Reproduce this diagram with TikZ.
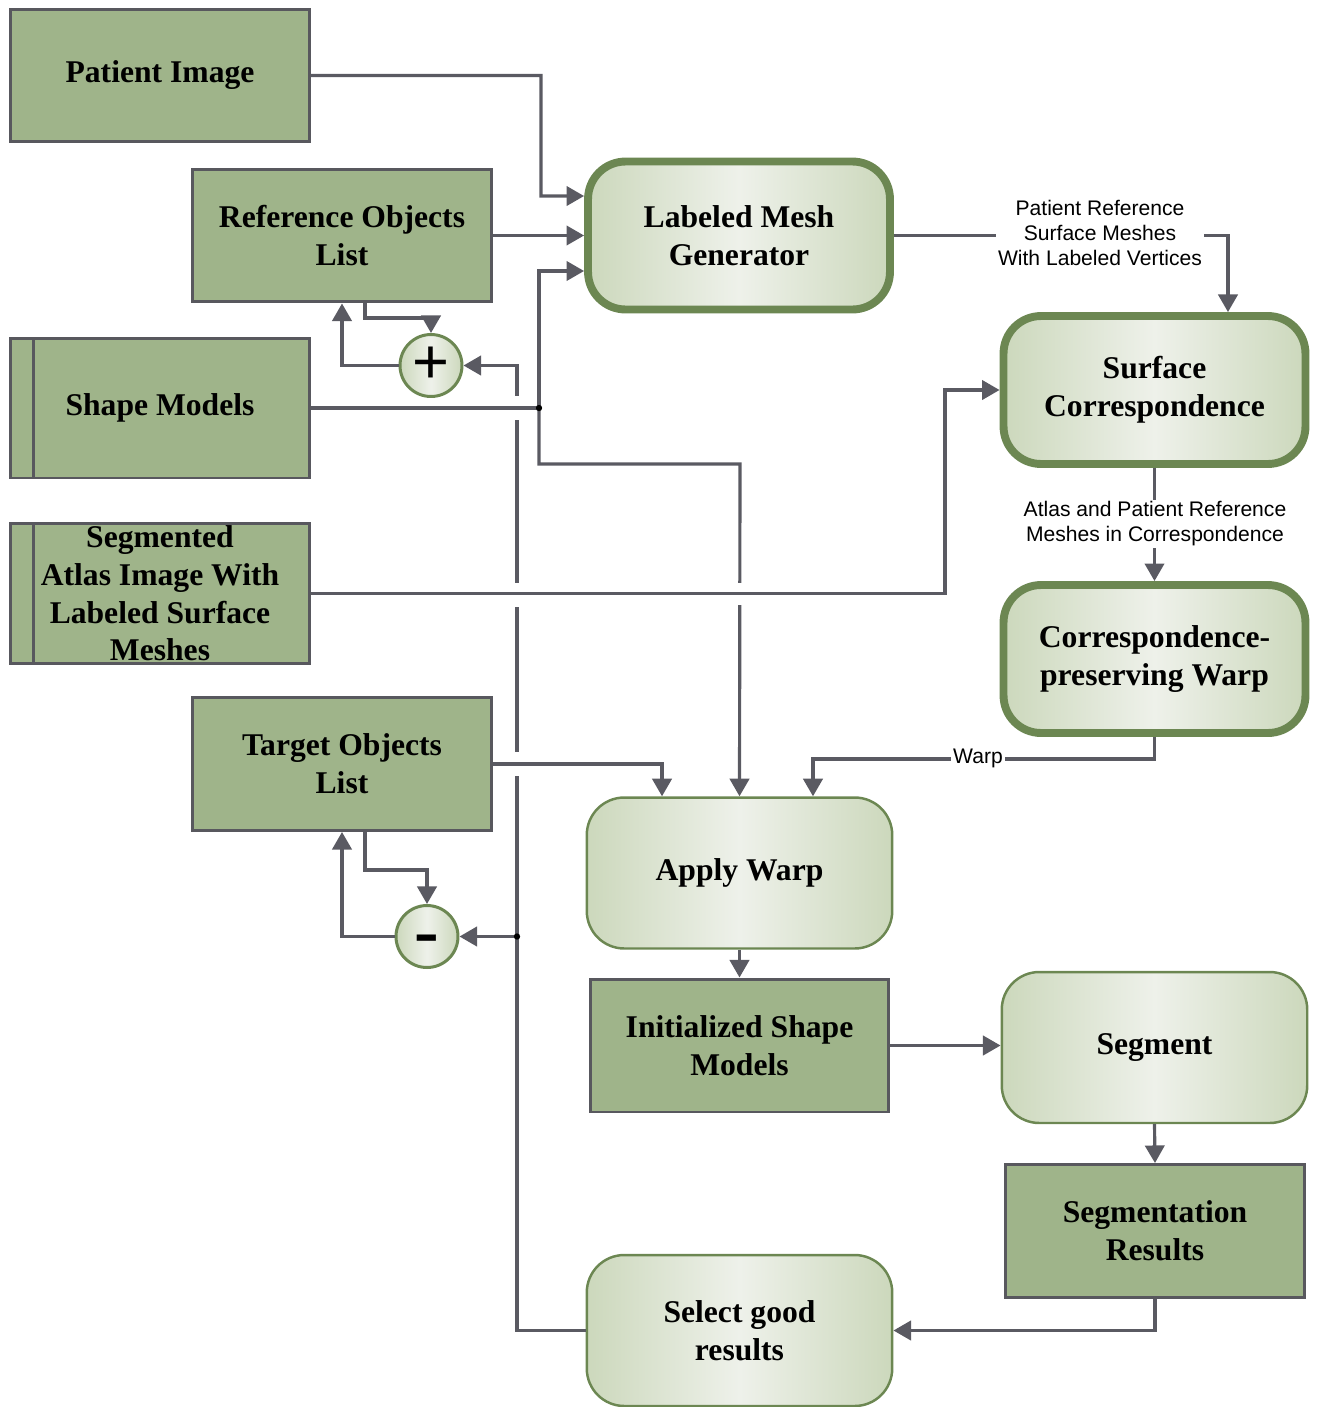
\documentclass[tikz,border=0pt]{standalone}
\usepackage{fontspec}
\setmainfont{Liberation Serif}
\setsansfont{Liberation Sans}
\usetikzlibrary{arrows.meta}

\definecolor{boxgreen}{HTML}{9FB48A}
\definecolor{boxline}{HTML}{58585E}
\definecolor{rimgreen}{HTML}{6C8752}
\definecolor{shadeside}{HTML}{CCD8BC}
\definecolor{shademid}{HTML}{EEF1EA}
\definecolor{conngray}{HTML}{5A5A62}

\tikzset{
  datbox/.style={rectangle,draw=boxline,line width=1.7pt,fill=boxgreen,inner sep=0pt,
    minimum width=5.98cm,minimum height=2.66cm,align=center,
    font=\bfseries\fontsize{18}{21.5}\selectfont},
  databar/.style={datbox,minimum height=2.8cm,
    path picture={\draw[boxline,line width=1.7pt]
      ([xshift=0.45cm]path picture bounding box.north west) --
      ([xshift=0.45cm]path picture bounding box.south west);}},
  procthick/.style={rectangle,rounded corners=0.75cm,draw=rimgreen,line width=4.5pt,
    left color=shadeside,right color=shadeside,middle color=shademid,inner sep=0pt,
    minimum width=6.04cm,minimum height=2.96cm,align=center,
    font=\bfseries\fontsize{18}{21.5}\selectfont},
  procthin/.style={procthick,line width=1.4pt,minimum width=6.11cm,minimum height=3.02cm},
  sumnode/.style={circle,draw=rimgreen,line width=1.7pt,inner sep=0pt,minimum size=1.24cm,
    left color=shadeside,right color=shadeside,middle color=shademid},
  conn/.style={draw=conngray,line width=1.8pt,-{Triangle[length=10pt,width=11pt]}},
  line/.style={draw=conngray,line width=1.8pt},
  lbl/.style={fill=white,inner sep=1pt,align=center,font=\sffamily\fontsize{12}{14.2}\selectfont}
}

\begin{document}
\begin{tikzpicture}[x=0.02cm,y=-0.02cm]
  \useasboundingbox (0,0) rectangle (1320,1407);

  % inputs on the left
  \node[datbox] (pimg) at (160,75.5) {Patient Image};
  \node[datbox] (refobj) at (342,235.5) {Reference Objects\\List};
  \node[databar] (shapemod) at (160,408) {Shape Models};
  \node[databar] (atlas) at (160,593.5) {Segmented\\Atlas Image With\\Labeled Surface\\Meshes};
  \node[datbox] (target) at (342,764) {Target Objects\\List};
  \node[sumnode] (plus) at (431,365.5) {\sffamily\fontsize{36}{36}\selectfont +};
  \node[sumnode] (minus) at (427,936.5) {\bfseries\fontsize{42}{42}\selectfont\smash{\raisebox{-11pt}{-}}};

  % processing steps
  \node[procthick] (lmg) at (739,235.5) {Labeled Mesh\\Generator};
  \node[procthick] (surfcorr) at (1154.5,390) {Surface\\Correspondence};
  \node[procthick] (cpwarp) at (1154.5,659) {Correspondence-\\preserving Warp};
  \node[procthin] (applyw) at (739.5,873) {Apply Warp};
  \node[datbox] (initsm) at (739.5,1045.5) {Initialized Shape\\Models};
  \node[procthin] (segment) at (1154.5,1047.5) {Segment};
  \node[datbox] (segres) at (1155,1231) {Segmentation\\Results};
  \node[procthin] (selgood) at (739.5,1330.5) {Select good\\results};

  \coordinate (jshape) at (539,408);
  \coordinate (jfb) at (517,936.5);

  % feedback loop
  \draw[conn] (selgood.west) -| (jfb) -- (minus.east);
  \draw[conn] (jfb) |- (plus.east);
  \fill[white] (512,396) rectangle (522,420);
  \fill[white] (512,583) rectangle (522,607);
  \fill[white] (512,752) rectangle (522,776);

  % shape models
  \draw[line] (shapemod.east) -- (jshape);
  \draw[conn] (jshape) |- ([yshift=-0.71cm]lmg.west);
  \draw[conn] (jshape) |- (740,464) -- (applyw.north);
  \fill[white] (735,583) rectangle (745,605);
  \fill (jshape) circle[radius=1.8pt];
  \fill (jfb) circle[radius=1.8pt];

  \draw[conn] (atlas.east) -| (945,390) -- (surfcorr.west);
  \draw[conn] (target.east) -| ([xshift=-1.55cm]applyw.north);
  \draw[conn] (pimg.east) -| (541,196) -- ([yshift=0.79cm]lmg.west);
  \draw[conn] (refobj.east) -- (lmg.west);

  \draw[conn] ([xshift=0.46cm]refobj.south) |- ([yshift=0.3cm]plus.north) -- (plus.north);
  \draw[conn] (plus.west) -| (refobj.south);
  \draw[conn] ([xshift=0.46cm]target.south) |- ([yshift=0.68cm]minus.north) -- (minus.north);
  \draw[conn] (minus.west) -| (target.south);

  % right column
  \draw[conn] (lmg.east) -| ([xshift=1.47cm]surfcorr.north);
  \node[lbl] (pmesh) at (1100,233) {Patient Reference\\Surface Meshes\\With Labeled Vertices};
  \draw[conn] (surfcorr.south) -- (cpwarp.north);
  \node[lbl] (corrmesh) at (1155,524) {Atlas and Patient Reference\\Meshes in Correspondence};
  \draw[conn] (cpwarp.south) -- ++(0,22) -| ([xshift=1.47cm]applyw.north);
  \node[lbl] (warp) at (978,758) {Warp};

  \draw[conn] (applyw.south) -- (initsm.north);
  \draw[conn] (initsm.east) -- (initsm.east -| segment.west);
  \draw[conn] (segment.south) -- (segres.north);
  \draw[conn] (segres.south) |- (selgood.east);
\end{tikzpicture}
\end{document}
